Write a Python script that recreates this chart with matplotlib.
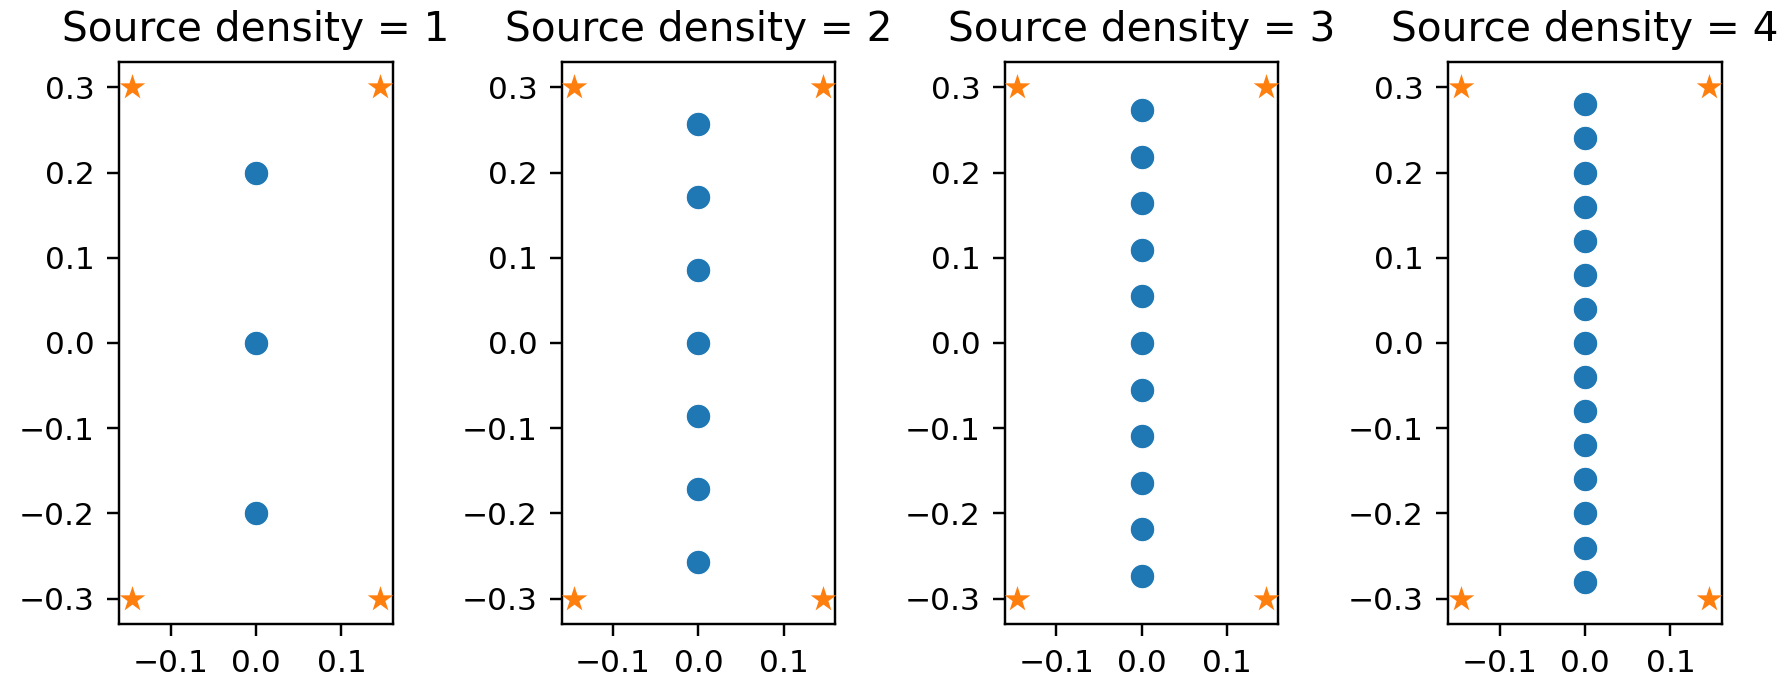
import matplotlib
matplotlib.use("Agg")
import matplotlib.pyplot as plt

densities = [1, 2, 3, 4]
source_y = {
    1: [-0.2, 0.0, 0.2],
    2: [-0.257, -0.171, -0.086, 0.0, 0.086, 0.171, 0.257],
    3: [-0.273, -0.218, -0.164, -0.109, -0.055, 0.0, 0.055, 0.109, 0.164, 0.218, 0.273],
    4: [-0.28, -0.24, -0.2, -0.16, -0.12, -0.08, -0.04, 0.0, 0.04, 0.08, 0.12, 0.16, 0.2, 0.24, 0.28],
}
receiver_x = [-0.1455, 0.1455, -0.1455, 0.1455]
receiver_y = [0.3, 0.3, -0.3, -0.3]

DPI = 250
W, H = 1786, 679
fig = plt.figure(figsize=(W / DPI, H / DPI), dpi=DPI)

lefts = [119.3, 561.7, 1005.0, 1448.3]
ax_w, ax_top, ax_bot = 273.4, 61.7, 624.3

for d, lx in zip(densities, lefts):
    ax = fig.add_axes([lx / W, (H - ax_bot) / H, ax_w / W, (ax_bot - ax_top) / H])
    ys = source_y[d]
    ax.scatter([0.0] * len(ys), ys, s=50, color="#1f77b4", edgecolors="white", linewidths=0.3, zorder=3)
    ax.scatter(receiver_x, receiver_y, s=60, marker="*", color="#ff7f0e", linewidths=0, zorder=3)
    ax.set_title(f"Source density = {d}", fontsize=11.7)
    ax.set_xticks([-0.1, 0.0, 0.1])
    ax.set_yticks([-0.3, -0.2, -0.1, 0.0, 0.1, 0.2, 0.3])
    ax.tick_params(labelsize=9)
    for sp in ax.spines.values():
        sp.set_linewidth(0.7)
    ax.tick_params(width=0.7)

fig.savefig("out.png", dpi=DPI)
